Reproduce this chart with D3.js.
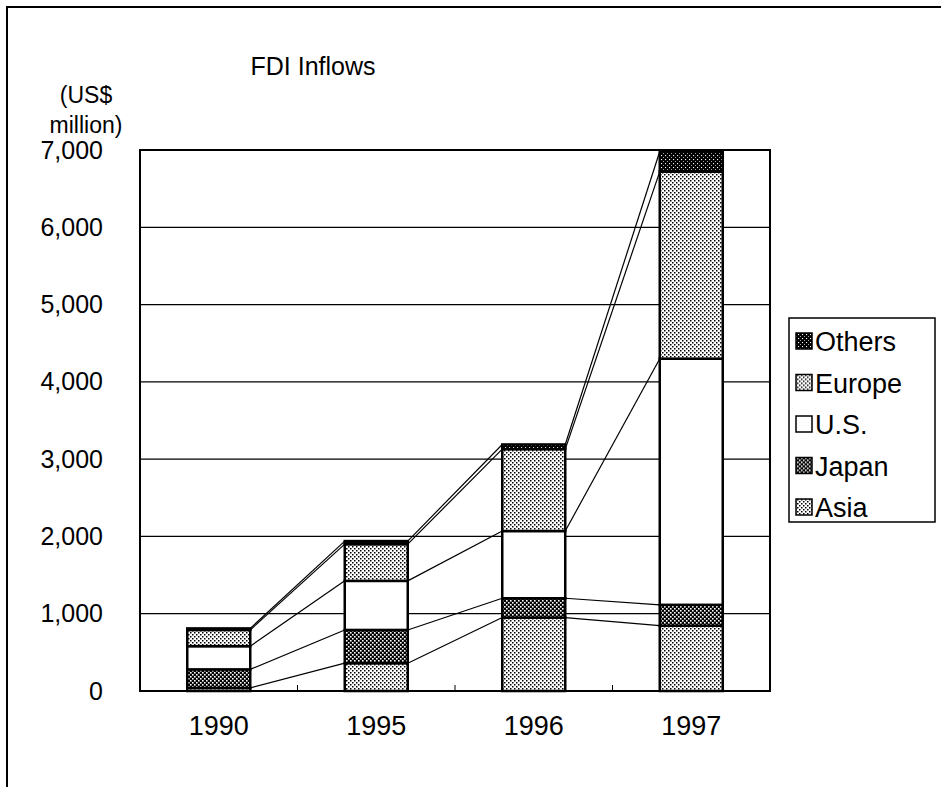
<!DOCTYPE html>
<html>
<head>
<meta charset="utf-8">
<script src="https://cdn.jsdelivr.net/npm/d3@7"></script>
<style>
  body { margin: 0; background: #fff; }
  text { font-family: "Liberation Sans", Arial, sans-serif; fill: #000; }
</style>
</head>
<body>
<div id="chart"></div>
<script>
// Step 1: Chart data
// =================================
var years  = ["1990", "1995", "1996", "1997"];
var asia   = [40, 360, 950, 845];
var japan  = [240, 430, 250, 270];
var us     = [300, 635, 870, 3185];
var europe = [210, 475, 1060, 2420];
var others = [20, 40, 60, 260];
var seriesNames = ["Asia", "Japan", "U.S.", "Europe", "Others"];
var yTicks = [0, 1000, 2000, 3000, 4000, 5000, 6000, 7000];

// Step 2: Set up our chart
// =================================
var svgWidth  = 941;
var svgHeight = 787;

var margin = { top: 150, right: 171, bottom: 96, left: 140 };
var width  = svgWidth  - margin.left - margin.right;
var height = svgHeight - margin.top  - margin.bottom;

var svg = d3.select("#chart").append("svg")
  .attr("width", svgWidth)
  .attr("height", svgHeight);

// outer frame (left and top edges only)
svg.append("path")
  .attr("d", "M7,787 V7 H941")
  .attr("fill", "none")
  .attr("stroke", "#000")
  .attr("stroke-width", 2);

// Step 3: Fill patterns
// =================================
var defs = svg.append("defs");

function makePattern(id, bg, dots, dotColor) {
  var p = defs.append("pattern")
    .attr("id", id)
    .attr("width", 4)
    .attr("height", 4)
    .attr("patternUnits", "userSpaceOnUse");
  p.append("rect").attr("width", 4).attr("height", 4).attr("fill", bg);
  dots.forEach(function(d) {
    p.append("rect")
      .attr("x", d[0]).attr("y", d[1])
      .attr("width", d[2]).attr("height", d[2])
      .attr("fill", dotColor);
  });
}
makePattern("pLight", "#fff", [[0, 0, 1.5], [2, 2, 1.5]], "#000");
makePattern("pDark",  "#000", [[0, 0, 1.6], [2, 2, 1.6]], "#fff");
makePattern("pBlack", "#000", [[1, 1, 1.1], [3, 3, 0.8]], "#fff");

var fills = {
  "Asia":   "url(#pLight)",
  "Japan":  "url(#pDark)",
  "U.S.":   "#fff",
  "Europe": "url(#pLight)",
  "Others": "url(#pBlack)"
};

// Step 4: Scales and stack
// =================================
var rows = years.map(function(y, i) {
  return { year: y, "Asia": asia[i], "Japan": japan[i], "U.S.": us[i],
           "Europe": europe[i], "Others": others[i] };
});
var stacked = d3.stack().keys(seriesNames)(rows);

var xScale = d3.scaleBand()
  .domain(years)
  .range([0, width])
  .paddingInner(0.6)
  .paddingOuter(0.3);

var yScale = d3.scaleLinear()
  .domain([0, 7000])
  .range([height, 0]);

var g = svg.append("g")
  .attr("transform", `translate(${margin.left}, ${margin.top})`);

// Step 5: Gridlines and axes
// =================================
g.append("g")
  .selectAll("line")
  .data(yTicks)
  .enter().append("line")
    .attr("x1", 0)
    .attr("x2", width)
    .attr("y1", d => yScale(d))
    .attr("y2", d => yScale(d))
    .attr("stroke", "#000")
    .attr("stroke-width", 1.2);

var leftAxis = d3.axisLeft(yScale)
  .tickValues(yTicks)
  .tickFormat(d3.format(","))
  .tickSize(0)
  .tickPadding(37);

g.append("g")
  .call(leftAxis)
  .call(a => a.select(".domain").remove())
  .selectAll("text")
    .style("font-size", "25px")
    .style("font-family", "Liberation Sans, Arial, sans-serif");

var bottomAxis = d3.axisBottom(xScale)
  .tickSize(0)
  .tickPadding(25);

g.append("g")
  .attr("transform", `translate(0, ${height})`)
  .call(bottomAxis)
  .call(a => a.select(".domain").remove())
  .selectAll("text")
    .style("font-size", "27px")
    .style("font-family", "Liberation Sans, Arial, sans-serif");

// small tick marks between categories
g.append("g")
  .selectAll("line")
  .data(years.slice(1))
  .enter().append("line")
    .attr("x1", d => xScale(d) - xScale.step() * xScale.paddingInner() / 2)
    .attr("x2", d => xScale(d) - xScale.step() * xScale.paddingInner() / 2)
    .attr("y1", height)
    .attr("y2", height - 6)
    .attr("stroke", "#000");

// Step 6: Series lines between bars
// =================================
stacked.forEach(function(s) {
  for (var i = 0; i < years.length - 1; i++) {
    g.append("line")
      .attr("x1", xScale(years[i]) + xScale.bandwidth())
      .attr("x2", xScale(years[i + 1]))
      .attr("y1", yScale(s[i][1]))
      .attr("y2", yScale(s[i + 1][1]))
      .attr("stroke", "#000")
      .attr("stroke-width", 1.2);
  }
});

// Step 7: Stacked bars
// =================================
g.append("g")
  .selectAll("g")
  .data(stacked)
  .enter().append("g")
    .attr("fill", d => fills[d.key])
  .selectAll("rect")
  .data(d => d)
  .enter().append("rect")
    .attr("x", d => xScale(d.data.year))
    .attr("y", d => yScale(d[1]))
    .attr("width", xScale.bandwidth())
    .attr("height", d => yScale(d[0]) - yScale(d[1]))
    .attr("stroke", "#000")
    .attr("stroke-width", 2.5);

// plot area border
g.append("rect")
  .attr("width", width)
  .attr("height", height)
  .attr("fill", "none")
  .attr("stroke", "#000")
  .attr("stroke-width", 2);

// Step 8: Titles
// =================================
svg.append("text")
  .attr("x", 313)
  .attr("y", 75)
  .attr("text-anchor", "middle")
  .style("font-size", "25px")
  .text("FDI Inflows");

svg.append("text")
  .attr("x", 86)
  .attr("y", 103)
  .attr("text-anchor", "middle")
  .style("font-size", "23px")
  .text("(US$");

svg.append("text")
  .attr("x", 86)
  .attr("y", 133)
  .attr("text-anchor", "middle")
  .style("font-size", "23px")
  .text("million)");

// Step 9: Legend
// =================================
var legend = svg.append("g")
  .attr("transform", "translate(789, 318)");

legend.append("rect")
  .attr("width", 146)
  .attr("height", 204)
  .attr("fill", "#fff")
  .attr("stroke", "#000")
  .attr("stroke-width", 1.5);

var legendItems = legend.selectAll("g.item")
  .data(seriesNames.slice().reverse())
  .enter().append("g")
    .attr("class", "item")
    .attr("transform", (d, i) => `translate(0, ${23 + i * 41.5})`);

legendItems.append("rect")
  .attr("x", 7)
  .attr("y", -8)
  .attr("width", 16)
  .attr("height", 16)
  .attr("fill", d => fills[d])
  .attr("stroke", "#000")
  .attr("stroke-width", 1.5);

legendItems.append("text")
  .attr("x", 26)
  .attr("y", 10)
  .style("font-size", "27px")
  .text(d => d);
</script>
</body>
</html>
